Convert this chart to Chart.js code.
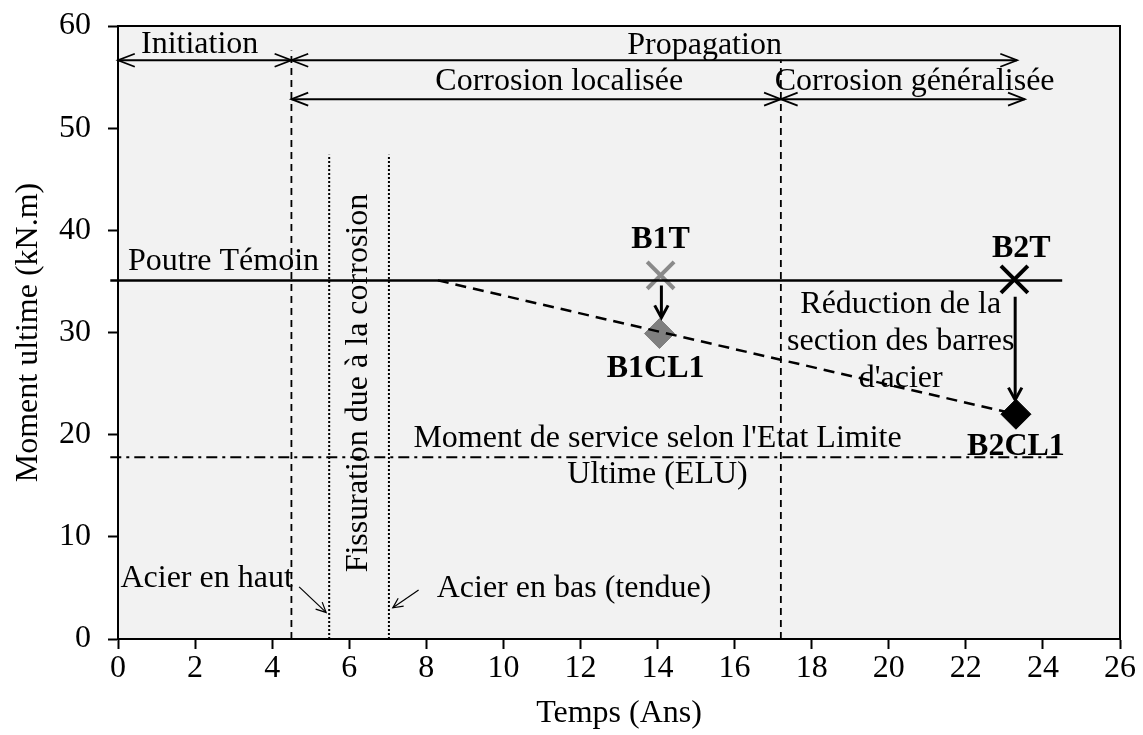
<!DOCTYPE html>
<html>
<head>
<meta charset="utf-8">
<script src="https://cdn.jsdelivr.net/npm/chart.js@4/dist/chart.umd.min.js"></script>
<style>
html,body{margin:0;padding:0;background:#fff;}
#wrap{width:1143px;height:735px;position:relative;}
</style>
</head>
<body>
<div id="wrap"><canvas id="c" width="1143" height="735"></canvas></div>
<script>
// ---- Data ----
const xTicks = [0,2,4,6,8,10,12,14,16,18,20,22,24,26];
const yTicks = [0,10,20,30,40,50,60];

const temoinLine    = [{x:-0.2,y:35.1},{x:24.5,y:35.1}];
const eluLine       = [{x:-0.2,y:17.8},{x:24.4,y:17.8}];
const reductionLine = [{x:8.3,y:35.1},{x:23.3,y:22.0}];

const phaseBoundX   = [4.5, 17.2];
const phaseBoundTop = [57.6, 56.7];
const crackX        = [5.48, 7.03];
const crackTop      = [47.4, 47.4];

const temoinPts   = [{x:14.08,y:35.6},{x:23.26,y:35.2}];
const corrodedPts = [{x:14.05,y:29.9},{x:23.3,y:22.0}];
const beamLabelsT  = ['B1T','B2T'];
const beamLabelsCL = ['B1CL1','B2CL1'];

// span arrows: [x1, x2, y]
const spanArrows = [
  [0, 4.5, 56.65],
  [4.5, 23.33, 56.65],
  [4.5, 17.2, 52.84],
  [17.2, 23.53, 52.84]
];
const spanLabels = ['Initiation','Propagation','Corrosion localisée','Corrosion généralisée'];
const spanLabelPos = [[2.12,57.35],[15.22,57.3],[11.45,53.75],[20.67,53.75]];

// reduction arrows (from -> to)
const dropArrows = [[14.1,34.6,14.1,31.45],[23.28,33.5,23.28,23.4]];
// annotation pointer arrows
const pointerArrows = [[4.7,5.1,5.4,2.6],[7.8,4.8,7.13,3.05]];

// ---- Rendering ----
const FONT = '"Liberation Serif", "Times New Roman", serif';
const FS = 32;

const annot = {
  id:'annot',
  beforeDraw(chart){
    const {ctx, chartArea:a} = chart;
    ctx.save();
    ctx.fillStyle = '#f2f2f2';
    ctx.fillRect(a.left, a.top, a.right-a.left, a.bottom-a.top);
    ctx.restore();
  },
  afterDatasetsDraw(chart){
    const {ctx} = chart;
    const xs = chart.scales.x, ys = chart.scales.y;
    const px = v => xs.getPixelForValue(v), py = v => ys.getPixelForValue(v);
    ctx.save();
    const head = (tx,ty,ang,len,spread,lw) => {
      ctx.lineWidth = lw;
      ctx.beginPath();
      ctx.moveTo(tx - len*Math.cos(ang-spread), ty - len*Math.sin(ang-spread));
      ctx.lineTo(tx,ty);
      ctx.lineTo(tx - len*Math.cos(ang+spread), ty - len*Math.sin(ang+spread));
      ctx.stroke();
    };
    ctx.strokeStyle = '#000';
    ctx.lineCap = 'butt';
    spanArrows.forEach(s=>{
      const x1=px(s[0]), x2=px(s[1]), y=py(s[2]);
      ctx.lineWidth = 2;
      ctx.beginPath(); ctx.moveTo(x1,y); ctx.lineTo(x2,y); ctx.stroke();
      head(x1,y,Math.PI,18,0.37,1.8);
      head(x2,y,0,18,0.37,1.8);
    });
    dropArrows.forEach(d=>{
      const x1=px(d[0]),y1=py(d[1]),x2=px(d[2]),y2=py(d[3]);
      ctx.lineWidth = 3;
      ctx.beginPath(); ctx.moveTo(x1,y1); ctx.lineTo(x2,y2-1); ctx.stroke();
      head(x2,y2,Math.atan2(y2-y1,x2-x1),14,0.5,3);
    });
    pointerArrows.forEach(d=>{
      const x1=px(d[0]),y1=py(d[1]),x2=px(d[2]),y2=py(d[3]);
      ctx.lineWidth = 1.2;
      ctx.beginPath(); ctx.moveTo(x1,y1); ctx.lineTo(x2,y2); ctx.stroke();
      head(x2,y2,Math.atan2(y2-y1,x2-x1),11,0.45,1.2);
    });
    ctx.fillStyle = '#000';
    ctx.textBaseline = 'alphabetic';
    const txt = (t,x,y,align,bold) => {
      ctx.font = (bold?'bold ':'') + FS + 'px ' + FONT;
      ctx.textAlign = align;
      ctx.fillText(t, px(x), py(y));
    };
    spanLabels.forEach((l,i)=>txt(l, spanLabelPos[i][0], spanLabelPos[i][1], 'center'));
    txt('Poutre Témoin', 0.26, 36.1, 'left');
    txt(beamLabelsT[0], 14.08, 38.3, 'center', true);
    txt(beamLabelsCL[0], 13.95, 25.6, 'center', true);
    txt(beamLabelsT[1], 23.44, 37.4, 'center', true);
    txt(beamLabelsCL[1], 23.3, 18.0, 'center', true);
    txt('Réduction de la', 20.31, 31.9, 'center');
    txt('section des barres', 20.31, 28.3, 'center');
    txt("d'acier", 20.31, 24.7, 'center');
    txt("Moment de service selon l'Etat Limite", 14.0, 18.8, 'center');
    txt('Ultime (ELU)', 14.0, 15.3, 'center');
    txt('Acier en haut', 2.3, 5.1, 'center');
    txt('Acier en bas (tendue)', 8.27, 4.1, 'left');
    ctx.save();
    ctx.translate(px(6.25), py(25.05));
    ctx.rotate(-Math.PI/2);
    ctx.font = FS + 'px ' + FONT;
    ctx.textAlign = 'center';
    ctx.textBaseline = 'middle';
    ctx.fillText('Fissuration due à la corrosion', 0, 0);
    ctx.restore();
    ctx.restore();
  },
  afterDraw(chart){
    const {ctx, chartArea:a} = chart;
    ctx.save();
    ctx.strokeStyle = '#000';
    ctx.lineWidth = 2;
    ctx.strokeRect(a.left, a.top, a.right-a.left, a.bottom-a.top);
    ctx.restore();
  }
};

const vLine = (x, top, dash, lw) => ({
  data:[{x:x,y:0},{x:x,y:top}], showLine:true, pointRadius:0,
  borderColor:'#000', borderWidth:lw, borderDash:dash, fill:false
});

const datasets = [
  {data:temoinLine, showLine:true, pointRadius:0, borderColor:'#000', borderWidth:2.5, clip:false},
  {data:eluLine, showLine:true, pointRadius:0, borderColor:'#000', borderWidth:2, borderDash:[11,5,3,5], clip:false},
  {data:reductionLine, showLine:true, pointRadius:0, borderColor:'#000', borderWidth:2.5, borderDash:[11,7]},
  ...phaseBoundX.map((x,i)=>vLine(x, phaseBoundTop[i], [7,5], 1.8)),
  ...crackX.map((x,i)=>vLine(x, crackTop[i], [2,2], 2)),
  {data:[temoinPts[0]], pointStyle:'crossRot', pointRadius:19, borderColor:'#8a8a8a', pointBorderWidth:4, showLine:false},
  {data:[corrodedPts[0]], pointStyle:'rectRot', pointRadius:15, backgroundColor:'#7f7f7f', borderColor:'#7f7f7f', pointBorderWidth:1, showLine:false},
  {data:[temoinPts[1]], pointStyle:'crossRot', pointRadius:19, borderColor:'#000', pointBorderWidth:4, showLine:false},
  {data:[corrodedPts[1]], pointStyle:'rectRot', pointRadius:15, backgroundColor:'#000', borderColor:'#000', pointBorderWidth:1, showLine:false}
];

new Chart(document.getElementById('c'), {
  type:'scatter',
  data:{datasets},
  options:{
    responsive:false, animation:false, devicePixelRatio:1,
    layout:{padding:{top:26,right:19,left:0,bottom:0}},
    plugins:{legend:{display:false}, tooltip:{enabled:false}},
    scales:{
      x:{
        type:'linear', min:0, max:26,
        afterBuildTicks: s => { s.ticks = xTicks.map(v=>({value:v})); },
        afterFit: s => { s.height = 96; s.paddingLeft = 0; s.paddingRight = 0; },
        ticks:{color:'#000', font:{family:FONT,size:FS}, padding:0, maxRotation:0, autoSkip:false},
        grid:{drawOnChartArea:false, drawTicks:true, tickLength:10, tickColor:'#000', tickWidth:2},
        border:{display:true, color:'#000', width:2},
        title:{display:true, text:'Temps (Ans)', color:'#000', font:{family:FONT,size:FS}, padding:{top:0,bottom:2}}
      },
      y:{
        type:'linear', min:0, max:60,
        afterBuildTicks: s => { s.ticks = yTicks.map(v=>({value:v})); },
        afterFit: s => { s.width = 118; s.paddingTop = 0; s.paddingBottom = 0; },
        ticks:{color:'#000', font:{family:FONT,size:FS}, padding:17, autoSkip:false},
        grid:{drawOnChartArea:false, drawTicks:true, tickLength:10, tickColor:'#000', tickWidth:2},
        border:{display:true, color:'#000', width:2},
        title:{display:true, text:'Moment ultime (kN.m)', color:'#000', font:{family:FONT,size:FS}, padding:{top:9,bottom:0}}
      }
    }
  },
  plugins:[annot]
});
</script>
</body>
</html>
